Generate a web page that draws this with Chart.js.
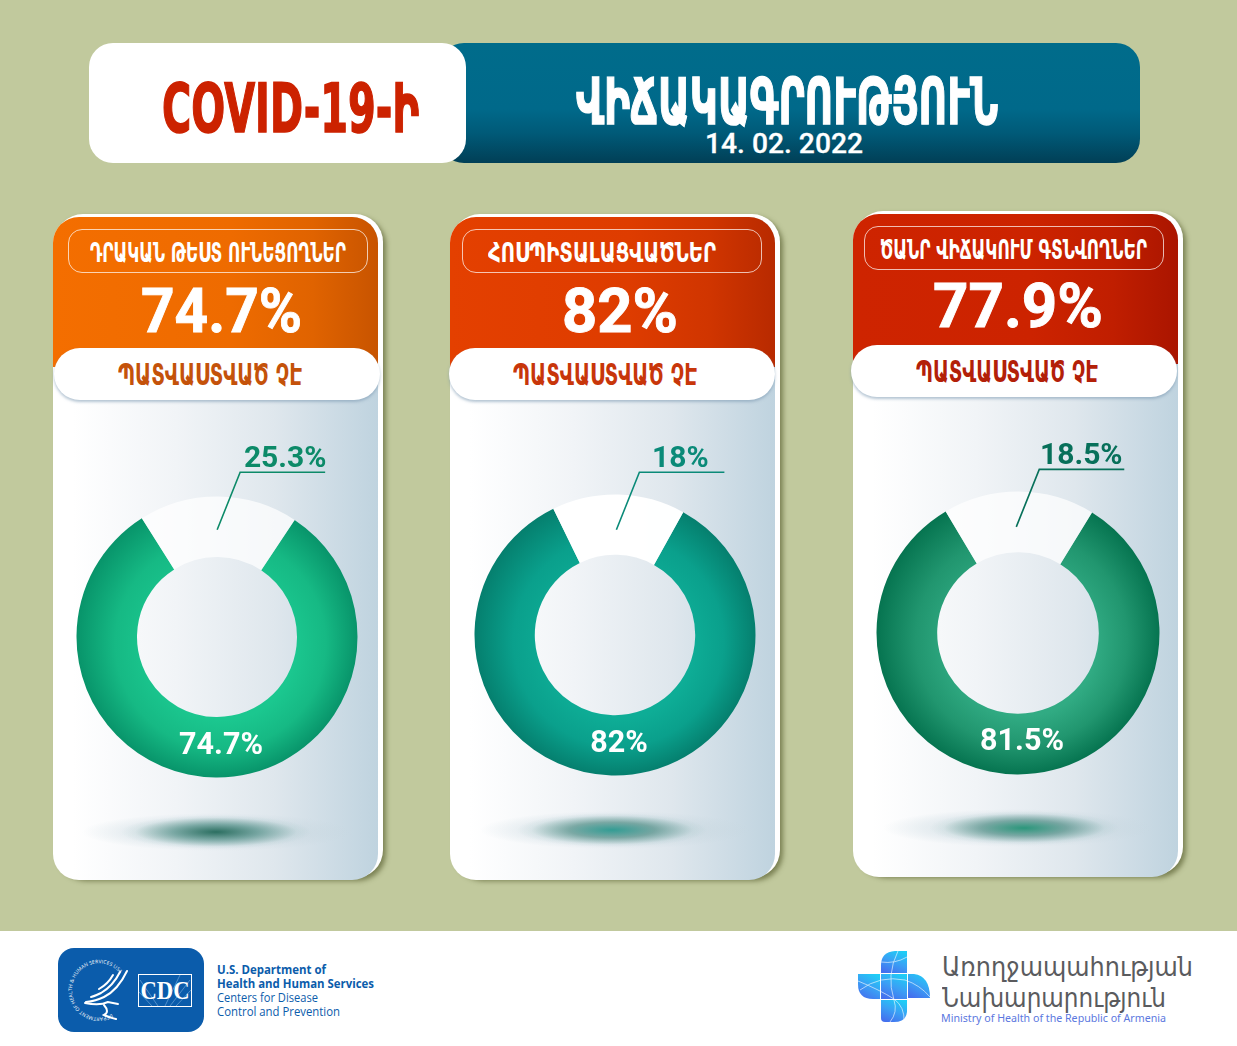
<!DOCTYPE html>
<html lang="hy">
<head>
<meta charset="UTF-8">
<title>COVID-19-ի վիճակագրություն</title>
<script src="https://cdn.jsdelivr.net/npm/chart.js"></script>
<style>
  html, body { margin: 0; padding: 0; }
  body { width: 1237px; height: 1046px; position: relative; overflow: hidden; background: #c1c99d; }
  .abs { position: absolute; box-sizing: border-box; }
  .fit { position: absolute; white-space: pre; line-height: 1; transform-origin: 0 0; }
  canvas { position: absolute; }
  #footer { left: 0; top: 931px; width: 1237px; height: 115px; background: #fff; }
  #logos { position: absolute; left: 0; top: 0; }
</style>
</head>
<body>
<div class="abs" id="footer"></div>

<svg id="logos" width="1237" height="1046" viewBox="0 0 1237 1046">
  <defs>
    <linearGradient id="crossFill" x1="0.75" y1="0" x2="0.25" y2="1">
      <stop offset="0" stop-color="#1fcdf6"/>
      <stop offset="0.5" stop-color="#3aa0f5"/>
      <stop offset="1" stop-color="#4470ee"/>
    </linearGradient>
    <path id="ringPath" d="M 112 1014 A 27 27 0 1 1 125 983"/>
  </defs>
  <!-- hhs / cdc badge -->
  <rect x="58" y="948" width="146" height="84" rx="16" fill="#0b5cab"/>
  <text font-family="Open Sans" font-size="5" fill="#fff"><textPath href="#ringPath" textLength="122">DEPARTMENT OF HEALTH &amp; HUMAN SERVICES USA</textPath></text>
  <g fill="none" stroke="#fff" stroke-width="2" stroke-linecap="round">
    <path d="M127 971 Q118 990 104 997 Q96 1001 86 1002"/>
    <path d="M120 972 Q113 986 101 993 Q95 996 91 997"/>
    <path d="M113 975 Q108 984 99 989"/>
    <path d="M85 1003 Q100 1006 108 1002 Q113 1003 118 1004"/>
    <path d="M104 1005 Q110 1012 104 1015 Q110 1018 116 1019"/>
  </g>
  <rect x="138.5" y="974.5" width="53" height="32" fill="none" stroke="#fff" stroke-width="1"/>
  <g stroke="#7fb0de" stroke-width="0.6">
    <path d="M165 1006 L180 975 M170 1006 L190 980 M176 1006 L191 990 M158 1006 L140 980 M152 1006 L139 992"/>
  </g>
  <text x="165" y="999" text-anchor="middle" font-family="Liberation Serif" font-weight="700" font-size="26" textLength="49" lengthAdjust="spacingAndGlyphs" fill="#fff">CDC</text>

  <!-- ministry cross -->
  <g fill="url(#crossFill)">
    <path d="M881 973 V965 Q881 952 895 951 H907 V973 Z"/>
    <path d="M858 974 H880 V999 H873 Q858 999 858 984 Z"/>
    <path d="M881 974 H907 V999 H881 Z"/>
    <path d="M908 974 H914 Q930 976 930 998 H908 Z"/>
    <path d="M881 1000 H907 V1012 Q906 1022 894 1022 H885 Q881 1022 881 1018 Z"/>
  </g>
  <g fill="none" stroke="#fff" stroke-width="0.8" opacity="0.75">
    <path d="M858 981 Q880 990 894 999 Q905 1007 904 1022"/>
    <path d="M898 951 Q886 975 894 1000 Q898 1012 890 1022"/>
    <path d="M860 990 Q880 975 905 980 Q920 985 930 997"/>
    <path d="M881 962 Q895 964 907 957"/>
  </g>
</svg>

<script>
// values printed on the cards
const cardTitles = ["ԴՐԱԿԱՆ ԹԵՍՏ ՈՒՆԵՑՈՂՆԵՐ", "ՀՈՍՊԻՏԱԼԱՑՎԱԾՆԵՐ", "ԾԱՆՐ ՎԻՃԱԿՈՒՄ ԳՏՆՎՈՂՆԵՐ"];
const headlineValues = ["74.7%", "82%", "77.9%"];
const ringLabels = ["74.7%", "82%", "81.5%"];
const gapLabels = ["25.3%", "18%", "18.5%"];
const notVaccinated = "ՊԱՏՎԱՍՏՎԱԾ ՉԷ";

// share of the ring each slice covers as drawn in the picture (the drawing is not to scale with the printed numbers)
const ringShares = [81.7, 84.7, 82.7];
const gapShares = [18.3, 15.3, 17.3];
// where the middle of the gap points, in degrees from 12 o'clock
const gapCenterDeg = [0.6, 1.5, 0.4];

const cardBoxes = [
  { x: 53, y: 217, w: 325, h: 663, cx: 217, cy: 637, R: 140.5, r: 80 },
  { x: 450, y: 217, w: 325, h: 663, cx: 615, cy: 634.5, R: 140.5, r: 80.2 },
  { x: 853, y: 214, w: 325, h: 663, cx: 1018, cy: 632.5, R: 141.5, r: 80.8 }
];
const headFills = [
  "linear-gradient(90deg,#f46e00 0%,#ee6b00 55%,#e06300 80%,#c85400 100%)",
  "linear-gradient(90deg,#e44000 0%,#de3c00 55%,#d03500 80%,#b82a00 100%)",
  "linear-gradient(90deg,#ce2400 0%,#cc2300 55%,#c01e00 80%,#aa1500 100%)"
];
const titleBoxes = [[68, 229], [462, 229], [864, 226]];
const pillBoxes = [[54, 348], [449, 348], [851, 345]];
const pillColors = ["#c4520a", "#c8360a", "#b32008"];
const ringStops = [
  ["#1bc78f", "#16b984", "#08946a"],
  ["#0ead96", "#0aa08c", "#057f6e"],
  ["#31ab83", "#21966f", "#067450"]
];
const gapFills = ["rgba(255,255,255,.72)", "rgba(255,255,255,.97)", "rgba(255,255,255,.72)"];
const leaderColors = ["#0c8a68", "#0a8a78", "#07705a"];
const leaderNudge = [[0, 0], [-0.5, 2], [-1.5, 2]];
const gapTextNudge = [2, -2, -1];
const shadowColors = ["rgba(35,105,90,.95)", "rgba(35,150,140,.9)", "rgba(30,145,115,.92)"];
const shadowShift = [-1, -3, 6];

// text runs: text, left, right, top of the capitals, capital height, font, weight, colour, capital ratio, stroke
const armenian = "'DejaVu Sans'";
const roboto = "Roboto";
const textRuns = [
  ["COVID-19-Ի", 162, 419, 82, 50, armenian, 700, "#cc2200", .73, 1.6],
  ["ՎԻՃԱԿԱԳՐՈՒԹՅՈՒՆ", 576, 998, 77, 47, armenian, 700, "#fff", .73, 1.4],
  ["14. 02. 2022", 705, 863, 133, 20, roboto, 500, "#fff", .711, 0.3],
  [cardTitles[0], 90, 346, 242, 20, armenian, 700, "#fff", .73, 0],
  [cardTitles[1], 488, 716, 242, 20, armenian, 700, "#fff", .73, 0],
  [cardTitles[2], 880, 1147, 239, 20, armenian, 700, "#fff", .73, 0],
  [headlineValues[0], 141, 302, 288, 44, roboto, 700, "#fff", .711, 0.9],
  [headlineValues[1], 562, 678, 288, 44, roboto, 700, "#fff", .711, 0.9],
  [headlineValues[2], 933, 1103, 283, 44, roboto, 700, "#fff", .711, 0.9],
  [notVaccinated, 118, 302, 363, 22, armenian, 700, pillColors[0], .73, 0],
  [notVaccinated, 513, 697, 363, 22, armenian, 700, pillColors[1], .73, 0],
  [notVaccinated, 916, 1098, 360, 22, armenian, 700, pillColors[2], .73, 0],
  ["U.S. Department of", 217, 326, 965, 9, "'Open Sans'", 700, "#0b5cab", .714, 0],
  ["Health and Human Services", 217, 374, 979, 9, "'Open Sans'", 700, "#0b5cab", .714, 0],
  ["Centers for Disease", 217, 318, 993, 9, "'Open Sans'", 400, "#0b5cab", .714, 0],
  ["Control and Prevention", 217, 340, 1007, 9, "'Open Sans'", 400, "#0b5cab", .714, 0],
  ["Առողջապահության", 942, 1193, 956, 20, armenian, 400, "#5a5b5e", .73, 0],
  ["Նախարարություն", 942, 1166, 987, 20, armenian, 400, "#5a5b5e", .73, 0],
  ["Ministry of Health of the Republic of Armenia", 941, 1166, 1014, 8, "'Noto Sans'", 400, "#5b78e0", .714, 0]
];

function addDiv(css) {
  const d = document.createElement("div");
  d.className = "abs";
  d.style.cssText = css;
  document.body.appendChild(d);
  return d;
}

// top banner
addDiv("left:440px;top:43px;width:700px;height:120px;border-radius:24px;background:linear-gradient(180deg,#006c8b 0%,#00698a 55%,#005a78 75%,#013f56 100%)");
addDiv("left:89px;top:43px;width:377px;height:120px;border-radius:24px;background:#fff");

// cards
cardBoxes.forEach(function (b, i) {
  addDiv(`left:${b.x + 2}px;top:${b.y - 3}px;width:${b.w + 3}px;height:${b.h + 1}px;border-radius:28px;background:#fff;box-shadow:3px 3px 5px rgba(85,90,45,.65)`);
  const panel = addDiv(`left:${b.x}px;top:${b.y}px;width:${b.w}px;height:${b.h}px;border-radius:26px;overflow:hidden;background:linear-gradient(90deg,#fff 6%,#f1f4f7 38%,#dfe7ed 68%,#bfd3df 100%)`);
  const head = document.createElement("div");
  head.style.cssText = `position:absolute;left:0;top:0;width:100%;height:150px;background:${headFills[i]}`;
  panel.appendChild(head);
  addDiv(`left:${titleBoxes[i][0]}px;top:${titleBoxes[i][1]}px;width:300px;height:44px;border-radius:14px;border:1px solid rgba(255,255,255,.7)`);
  addDiv(`left:${pillBoxes[i][0]}px;top:${pillBoxes[i][1]}px;width:326px;height:52px;border-radius:26px;background:#fff;box-shadow:0 2px 3px rgba(120,150,175,.55)`);
  // floor shadow under the ring
  addDiv(`left:${b.cx - 135}px;top:${b.cy + 176}px;width:270px;height:38px;background:radial-gradient(ellipse closest-side,rgba(170,195,200,.5),rgba(195,212,220,.3) 70%,rgba(255,255,255,0))`);
  addDiv(`left:${b.cx - 95 + shadowShift[i]}px;top:${b.cy + 178}px;width:190px;height:34px;background:radial-gradient(ellipse closest-side,${shadowColors[i]} 0%,rgba(60,130,120,.6) 45%,rgba(150,190,190,.15) 85%,rgba(255,255,255,0))`);
});

// cap-height and width fitted text
textRuns.forEach(function (t) {
  const s = document.createElement("span");
  s.className = "fit";
  s.textContent = t[0];
  s.style.fontFamily = t[5];
  s.style.fontWeight = t[6];
  s.style.color = t[7];
  s.style.fontSize = (t[4] / t[8]) + "px";
  if (t[9]) s.style.webkitTextStroke = t[9] + "px " + t[7];
  s.style.left = t[1] + "px";
  s.style.top = "0px";
  document.body.appendChild(s);
  const w = s.getBoundingClientRect().width;
  const probe = document.createElement("i");
  probe.style.cssText = "display:inline-block;width:0;height:0";
  s.appendChild(probe);
  const base = probe.getBoundingClientRect().bottom;
  s.removeChild(probe);
  s.style.top = (t[3] + t[4] - base) + "px";
  s.style.transform = `scaleX(${(t[2] - t[1]) / w})`;
});

// leader line and the two printed values, hung off the arcs themselves
const ringText = {
  id: "ringText",
  afterDatasetsDraw(chart, args, o) {
    const g = chart.ctx;
    const arcs = chart.getDatasetMeta(0).data;
    const mid = arcs[1].getCenterPoint();
    const ax = mid.x - 1 + o.nudge[0], ay = mid.y + 3 + o.nudge[1];
    const kx = ax + 23, ky = ay - 57.5;
    g.save();
    g.strokeStyle = o.color;
    g.lineWidth = 1.6;
    g.beginPath();
    g.moveTo(ax, ay);
    g.lineTo(kx, ky);
    g.lineTo(kx + 85, ky);
    g.stroke();
    g.textAlign = "center";
    g.font = "700 30px Roboto";
    g.fillStyle = o.color;
    g.fillText(o.gapLabel, kx + 43 + o.textNudge, ky - 5);
    g.font = "700 30.5px Roboto";
    g.fillStyle = "#fff";
    g.fillText(o.ringLabel, arcs[0].x + 4, arcs[0].y + 117);
    g.restore();
  }
};

cardBoxes.forEach(function (b, i) {
  const c = document.createElement("canvas");
  const cw = 320, ch = 420;
  c.width = cw;
  c.height = ch;
  c.style.left = (b.cx - cw / 2) + "px";
  c.style.top = (b.cy - ch / 2) + "px";
  c.style.width = cw + "px";
  c.style.height = ch + "px";
  document.body.appendChild(c);
  const stops = ringStops[i];
  new Chart(c.getContext("2d"), {
    type: "doughnut",
    data: {
      labels: [ringLabels[i], gapLabels[i]],
      datasets: [{
        data: [ringShares[i], gapShares[i]],
        borderWidth: 0,
        backgroundColor: function (ctx) {
          if (ctx.dataIndex === 1) return gapFills[i];
          const g = ctx.chart.ctx.createRadialGradient(cw / 2 + 7, ch / 2 + 13, 70, cw / 2, ch / 2, b.R);
          g.addColorStop(0, stops[0]);
          g.addColorStop(0.5, stops[1]);
          g.addColorStop(1, stops[2]);
          return g;
        }
      }]
    },
    options: {
      responsive: false,
      animation: false,
      devicePixelRatio: 1,
      radius: b.R,
      cutout: (b.r / b.R * 100) + "%",
      // the ring starts at the right edge of the gap
      rotation: gapCenterDeg[i] + gapShares[i] * 1.8,
      layout: { padding: 0 },
      plugins: {
        legend: { display: false },
        tooltip: { enabled: false },
        ringText: {
          color: leaderColors[i],
          gapLabel: gapLabels[i],
          ringLabel: ringLabels[i],
          nudge: leaderNudge[i],
          textNudge: gapTextNudge[i]
        }
      }
    },
    plugins: [ringText]
  });
});
</script>
</body>
</html>
